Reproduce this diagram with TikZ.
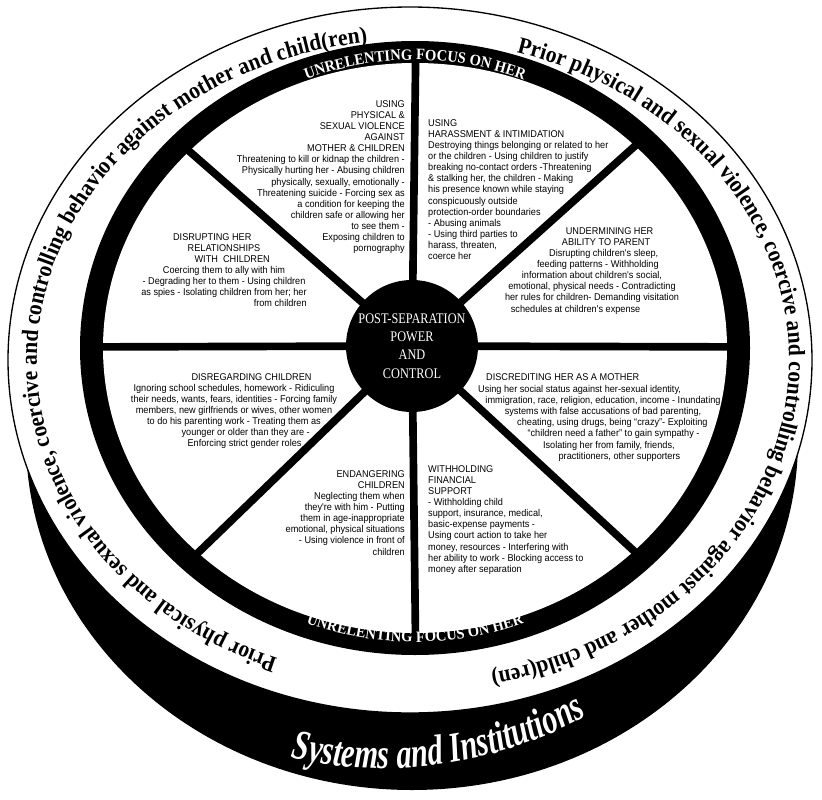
\documentclass[tikz,border=0pt]{standalone}
\usepackage{fontspec}
\usetikzlibrary{decorations.text,calc}
\newfontfamily\bodyfont{Liberation Sans}[FakeStretch=0.93]
\newfontfamily\ringfont{Liberation Serif}[FakeStretch=0.92]
\newfontfamily\hubfont{Liberation Serif}[FakeStretch=0.84]
\newfontfamily\sysfont{Liberation Serif}[FakeStretch=0.72]

\begin{document}
\begin{tikzpicture}[x=0.3mm,y=-0.3mm,
    sector/.style={font=\bodyfont\fontsize{8.4}{9.5}\selectfont, inner sep=0pt},
    ringtext/.style={decorate, decoration={text along path, text align=center, text color=white,
        text={|\ringfont\bfseries\fontsize{13.5}{13.5}\selectfont|UNRELENTING FOCUS ON HER}}},
    priorpath/.style={decorate, decoration={text along path, text align=center,
        text={|\ringfont\bfseries\fontsize{20}{20}\selectfont|Prior physical and sexual violence, coercive and controlling behavior against mother and child(ren)}}}]
  \useasboundingbox (0,0) rectangle (822,800);
  \coordinate (hub) at (412,346);
  \coordinate (wheel) at (415,348);

  % base and outer ring
  \fill[black] (412,440) ellipse [x radius=386, y radius=350];
  \draw[fill=white, line width=0.4mm] (410,360) ellipse [x radius=402, y radius=353];

  % wheel
  \fill[black] (wheel) ellipse [x radius=335, y radius=307];
  \fill[white] (wheel) ellipse [x radius=312, y radius=285];

  % spokes
  \begin{scope}
    \clip (wheel) ellipse [x radius=313, y radius=286];
    \foreach \ex/\ey in {416/30, 655/128, 770/347, 660/575, 416/680, 175/575, 60/347, 165/130}
      \draw[line width=2.3mm] (hub) -- (\ex,\ey);
  \end{scope}

  % hub
  \fill[black] (hub) circle [radius=66];
  \node[text=white, align=center, font=\hubfont\fontsize{12.5}{15.5}\selectfont] (hublabel) at (hub)
    {POST-SEPARATION\\POWER\\AND\\CONTROL};

  % ring labels
  \path[ringtext] ($(wheel)+(235:300 and 288)$) arc [start angle=235, end angle=305, x radius=300, y radius=288];
  \path[ringtext] ($(wheel)+(125:310 and 294)$) arc [start angle=125, end angle=55, x radius=310, y radius=294];

  % outer texts
  \path[priorpath] ($(413,360)+(102:376 and 320)$) arc [start angle=102, end angle=272, x radius=376, y radius=320];
  \path[priorpath] ($(413,360)+(284:376 and 320)$) arc [start angle=284, end angle=440, x radius=376, y radius=320];
  \path[decorate, decoration={text along path, text align=center, text color=white,
      text={|\sysfont\bfseries\itshape\fontsize{36}{36}\selectfont|Systems and Institutions}}]
    (280,755) .. controls (380,782) and (500,768) .. (596,710);

  % sectors
  \node[sector, anchor=north east, align=right] (physical) at (405,100)
    {USING\\PHYSICAL \&\\SEXUAL VIOLENCE\\AGAINST\\MOTHER \& CHILDREN\\
     Threatening to kill or kidnap the children -\\Physically hurting her - Abusing children\\
     physically, sexually, emotionally -\\Threatening suicide - Forcing sex as\\
     a condition for keeping the\\children safe or allowing her\\to see them -\\
     Exposing children to\\pornography};
  \node[sector, anchor=north west, align=left] (harass) at (428,119)
    {USING\\HARASSMENT \& INTIMIDATION\\Destroying things belonging or related to her\\
     or the children - Using children to justify\\breaking no-contact orders -Threatening\\
     \& stalking her, the children - Making\\his presence known while staying\\
     conspicuously outside\\protection-order boundaries\\- Abusing animals\\
     - Using third parties to\\harass, threaten,\\coerce her};
  \node[sector, anchor=north, align=center] (undermine) at (592,227)
    {\hspace*{30pt}UNDERMINING HER\\\hspace*{24pt}ABILITY TO PARENT\\\hspace*{20pt}Disrupting children's sleep,\\
     \hspace*{10pt}feeding patterns - Withholding\\information about children's social,\\
     emotional, physical needs - Contradicting\\her rules for children- Demanding visitation\\
     \hspace*{-28pt}schedules at children's expense};
  \node[sector, anchor=north, align=center] (disrupt) at (224,233)
    {\hspace*{-20pt}DISRUPTING HER\\RELATIONSHIPS\\\hspace*{14pt}WITH\ \ CHILDREN\\
     Coercing them to ally with him\\- Degrading her to them - Using children\\
     as spies - Isolating children from her; her\\\hspace*{96pt}from children};
  \node[sector, anchor=north, align=center] (disregard) at (234,373)
    {\hspace*{30pt}DISREGARDING CHILDREN\\Ignoring school schedules, homework - Ridiculing\\
     their needs, wants, fears, identities - Forcing family\\
     members, new girlfriends or wives, other women\\to do his parenting work - Treating them as\\
     \hspace*{20pt}younger or older than they are -\\\hspace*{18pt}Enforcing strict gender roles};
  \node[sector, anchor=north west] (discredit) at (486,373) {DISCREDITING HER AS A MOTHER};
  \node[sector, anchor=north, align=center] (discreditbody) at (603,385)
    {\hspace*{-40pt}Using her social status against her-sexual identity,\\
     immigration, race, religion, education, income - Inundating\\
     systems with false accusations of bad parenting,\\
     \hspace*{16pt}cheating, using drugs, being “crazy”- Exploiting\\
     \hspace*{18pt}“children need a father” to gain sympathy -\\
     \hspace*{10pt}Isolating her from family, friends,\\\hspace*{28pt}practitioners, other supporters};
  \node[sector, anchor=north east, align=right] (endanger) at (405,470)
    {ENDANGERING\\CHILDREN\\Neglecting them when\\they're with him - Putting\\
     them in age-inappropriate\\emotional, physical situations\\- Using violence in front of\\children};
  \node[sector, anchor=north west, align=left] (financial) at (428,465)
    {WITHHOLDING\\FINANCIAL\\SUPPORT\\- Withholding child\\support, insurance, medical,\\
     basic-expense payments -\\Using court action to take her\\money, resources - Interfering with\\
     her ability to work - Blocking access to\\money after separation};
\end{tikzpicture}
\end{document}
